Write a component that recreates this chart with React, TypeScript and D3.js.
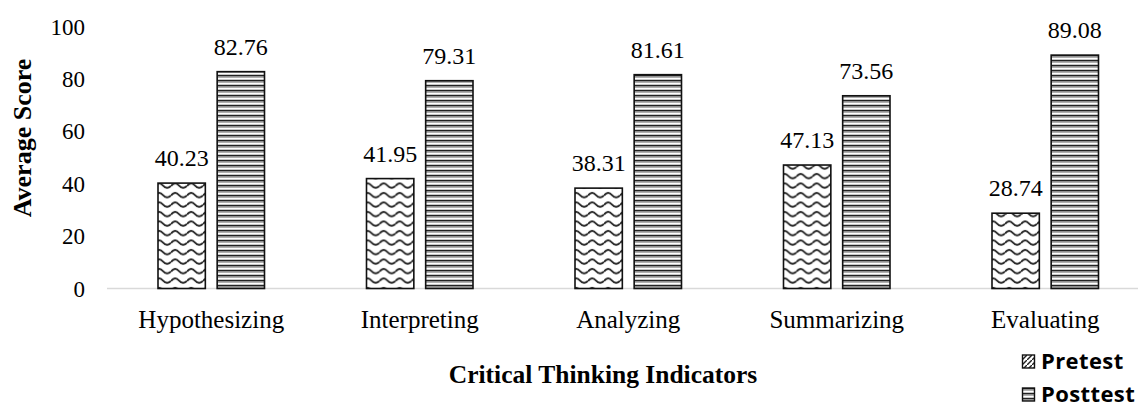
import * as d3 from "d3";

const categories = ["Hypothesizing", "Interpreting", "Analyzing", "Summarizing", "Evaluating"];
const seriesNames = ["Pretest", "Posttest"];
const pretest = [40.23, 41.95, 38.31, 47.13, 28.74];
const posttest = [82.76, 79.31, 81.61, 73.56, 89.08];
const yTicks = [0, 20, 40, 60, 80, 100];

const W = 1138, H = 407;
const serif = "'Liberation Serif', 'Times New Roman', serif";

export default function App() {
  const x = d3.scaleBand<string>().domain(categories).range([107, 107 + 5 * 208.5]).padding(0);
  const x1 = d3.scaleBand<string>().domain(seriesNames).range([51, 157.5]).paddingInner(0.2);
  const y = d3.scaleLinear().domain([0, 100]).range([288.5, 26.5]);
  const values = [pretest, posttest];
  const fills = ["url(#wave)", "url(#stripes)"];

  return (
    <div style={{ position: "absolute", left: 0, top: 0 }}>
      <svg width={W} height={H} style={{ display: "block", background: "#fff" }}>
        <defs>
          <pattern id="wave" patternUnits="userSpaceOnUse" width={16} height={9.5}>
            <rect width={16} height={9.5} fill="#fff" />
            <path d="M0,5.5 Q4,0.5 8,5 T16,5.5" fill="none" stroke="#222" strokeWidth={1.8} />
          </pattern>
          <pattern id="stripes" patternUnits="userSpaceOnUse" width={8} height={5}>
            <rect width={8} height={5} fill="#fff" />
            <rect y={0} width={8} height={1.6} fill="#222" />
            <rect y={1.6} width={8} height={1.4} fill="#b0b0b0" />
            <rect y={4} width={8} height={1} fill="#c8c8c8" />
          </pattern>
          <pattern id="legWave" patternUnits="userSpaceOnUse" width={5} height={5}>
            <rect width={5} height={5} fill="#fff" />
            <path d="M0,5 L5,0" stroke="#222" strokeWidth={1.4} />
          </pattern>
        </defs>

        {/* axis line */}
        <line x1={107} x2={W} y1={y(0)} y2={y(0)} stroke="#d9d9d9" strokeWidth={1.5} />

        {/* y tick labels */}
        {yTicks.map((t) => (
          <text key={t} x={85} y={y(t)} dy="0.35em" textAnchor="end"
            fontFamily={serif} fontSize={23} fill="#000">{t}</text>
        ))}

        {/* bars */}
        {categories.map((c, i) => (
          <g key={c} transform={`translate(${x(c)},0)`}>
            {seriesNames.map((s, k) => {
              const v = values[k][i];
              const bx = x1(s)!;
              return (
                <g key={s}>
                  <rect x={bx} y={y(v)} width={x1.bandwidth()} height={y(0) - y(v)}
                    fill={fills[k]} stroke="#111" strokeWidth={1.6} />
                  <text x={bx + x1.bandwidth() / 2} y={y(v) - 17} textAnchor="middle"
                    fontFamily={serif} fontSize={24} fill="#000">{v.toFixed(2)}</text>
                </g>
              );
            })}
            <text x={x.bandwidth() / 2} y={328} textAnchor="middle"
              fontFamily={serif} fontSize={25} fill="#000">{c}</text>
          </g>
        ))}

        {/* axis titles */}
        <text transform="translate(31,138) rotate(-90)" textAnchor="middle"
          fontFamily={serif} fontSize={26} fontWeight="bold" fill="#000">Average Score</text>
        <text x={603} y={383} textAnchor="middle"
          fontFamily={serif} fontSize={25.5} fontWeight="bold" fill="#000">Critical Thinking Indicators</text>

        {/* legend */}
        {seriesNames.map((s, k) => (
          <g key={s} transform={`translate(1022,${355 + k * 33})`}>
            <rect x={0.5} y={0} width={12} height={13}
              fill={k === 0 ? "url(#legWave)" : "url(#stripes)"} stroke="#111" strokeWidth={1.4} />
            <text x={19} y={14} fontFamily="'Open Sans', sans-serif" fontWeight="bold"
              fontSize={22} letterSpacing={0.4} fill="#000">{s}</text>
          </g>
        ))}
      </svg>
    </div>
  );
}
